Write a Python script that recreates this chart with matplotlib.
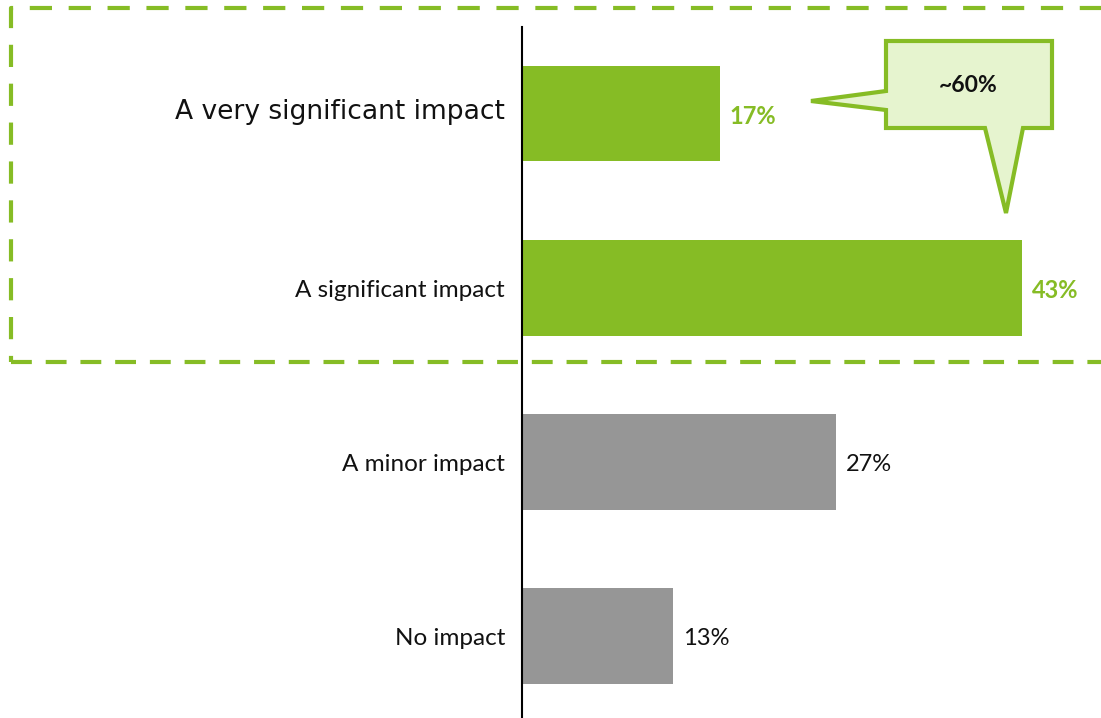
import matplotlib.pyplot as plt
from matplotlib.patches import Polygon
from matplotlib.lines import Line2D

plt.rcParams['lines.scale_dashes'] = False

# survey answers, top to bottom
categories = ["A very significant impact", "A significant impact", "A minor impact", "No impact"]
shares = [17, 43, 27, 13]
callout_text = "~60%"

green = "#86BC25"
grey = "#969696"
colors = [green, green, grey, grey]

W, H = 1101, 718
fig = plt.figure(figsize=(W / 100, H / 100), dpi=100)

# axes placed in pixel terms so the 43% bar ends near x=1022
px_per_pct = 500 / 43
ax = fig.add_axes([522 / W, 0, (W - 522) / W, (H - 27) / H])
ax.set_xlim(0, (W - 522) / px_per_pct)
ax.set_ylim(3 + 82 / 174, -86.5 / 174)

pos = list(range(len(categories)))
ax.barh(pos, shares, height=0.55, color=colors)

for spine in ["top", "right", "bottom"]:
    ax.spines[spine].set_visible(False)
ax.spines["left"].set_linewidth(1.5)
ax.set_xticks([])
ax.set_yticks([])

# category labels
for i, name in enumerate(categories):
    if i == 0:
        ax.text(-17 / px_per_pct, i - 0.01, name, ha="right", va="center",
                fontsize=19.1, family="DejaVu Sans", color="#111111")
    else:
        ax.text(-17 / px_per_pct, i + 0.015, name, ha="right", va="center",
                fontsize=17.5, family="Lato", color="#111111")

# value labels
for i, v in enumerate(shares):
    bold = i < 2
    ax.text(v + 10 / px_per_pct, i + 0.015, f"{v}%", ha="left", va="center",
            fontsize=17, family="Lato",
            fontweight="bold" if bold else "normal",
            color=green if bold else "#111111")


def fx(x):
    return x / W


def fy(y):
    return 1 - y / H


# dashed frame around the two top answers (open on the right)
frame_top = Line2D([fx(1120), fx(11), fx(11)], [fy(8), fy(8), fy(362)],
                   color=green, lw=3, linestyle=(0, (16, 12)),
                   transform=fig.transFigure)
frame_bottom = Line2D([fx(11), fx(1120)], [fy(362), fy(362)],
                      color=green, lw=3, linestyle=(0, (15, 10)),
                      transform=fig.transFigure)
fig.add_artist(frame_top)
fig.add_artist(frame_bottom)

# speech bubble
bubble = [(886, 41), (1052, 41), (1052, 128), (1023, 128), (1006, 213),
          (985, 128), (886, 128), (886, 110), (811, 101), (886, 91)]
fig.add_artist(Polygon([(fx(x), fy(y)) for x, y in bubble], closed=True,
                       facecolor="#E6F4CF", edgecolor=green, lw=3,
                       joinstyle="miter", transform=fig.transFigure))
fig.text(fx(968), fy(86), callout_text, ha="center", va="center",
         fontsize=16.5, fontweight="bold", family="Lato", color="#111111")

fig.savefig("out.png", dpi=100)
